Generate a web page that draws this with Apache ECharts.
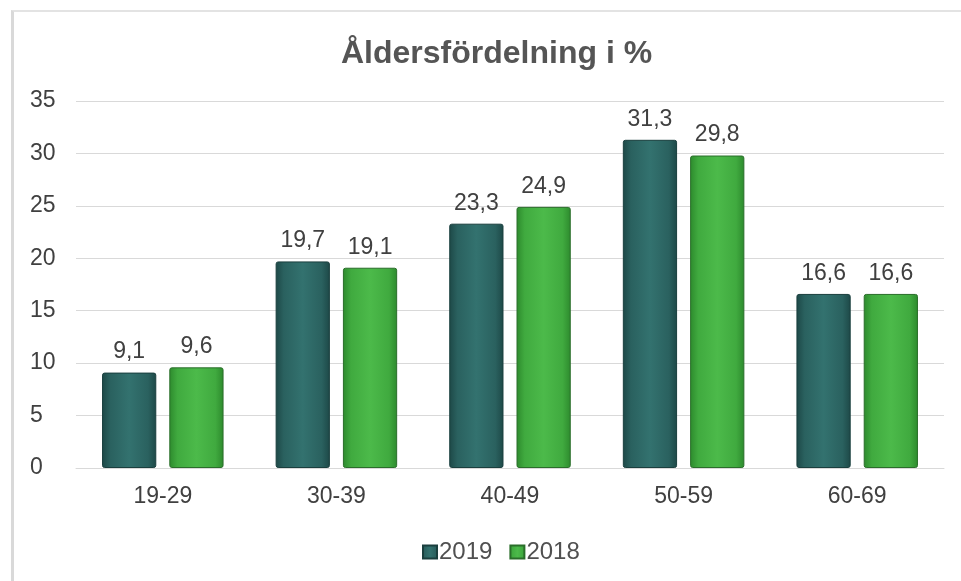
<!DOCTYPE html>
<html>
<head>
<meta charset="utf-8">
<script src="https://cdn.jsdelivr.net/npm/echarts@6/dist/echarts.min.js"></script>
<style>
  html, body { margin: 0; padding: 0; background: #fff; }
  #frame { position: absolute; left: 11px; top: 10px; width: 950px; height: 571px;
           border-left: 3px solid #d9d9d9; border-top: 2px solid #e3e3e3; box-sizing: border-box; }
  #main { width: 961px; height: 581px; position: absolute; left: 0; top: 0; }
</style>
</head>
<body>
<div id="frame"></div>
<div id="main"></div>
<script>
var categories = ['19-29', '30-39', '40-49', '50-59', '60-69'];
var values2019 = [9.1, 19.7, 23.3, 31.3, 16.6];
var values2018 = [9.6, 19.1, 24.9, 29.8, 16.6];
var yTicks = [0, 5, 10, 15, 20, 25, 30, 35];

var chart = echarts.init(document.getElementById('main'));

// Bars have a lighter middle and darker edges
function barFill(light, mid, dark) {
    return new echarts.graphic.LinearGradient(0, 0, 1, 0, [
        {offset: 0, color: dark},
        {offset: 0.15, color: mid},
        {offset: 0.5, color: light},
        {offset: 0.85, color: mid},
        {offset: 1, color: dark}
    ]);
}

var labelStyle = {
    show: true,
    position: 'top',
    distance: 9,
    fontFamily: 'Liberation Sans, Arial',
    fontSize: 23,
    color: '#404040',
    formatter: function (p) { return String(p.value).replace('.', ','); }
};

var option = {
    backgroundColor: 'transparent',
    title: {
        text: 'Åldersfördelning i %',
        left: 336,
        top: 33,
        textStyle: { fontFamily: 'Liberation Sans, Arial', fontSize: 32, fontWeight: 'bold', color: '#555555' }
    },
    legend: {
        bottom: 12,
        left: 417,
        itemWidth: 14,
        itemHeight: 13,
        itemGap: 17,
        icon: 'rect',
        textStyle: { fontFamily: 'Liberation Sans, Arial', fontSize: 24, color: '#505050', padding: [0, 0, 0, -3] },
        data: ['2019', '2018']
    },
    grid: { left: 76, right: 17, top: 101, bottom: 113 },
    xAxis: {
        type: 'category',
        data: categories,
        axisLine: { lineStyle: { color: '#d9d9d9', width: 1 } },
        axisTick: { show: false },
        axisLabel: { fontFamily: 'Liberation Sans, Arial', fontSize: 23, color: '#404040', margin: 17 }
    },
    yAxis: {
        type: 'value',
        min: yTicks[0],
        max: yTicks[yTicks.length - 1],
        interval: 5,
        axisLine: { show: false },
        axisTick: { show: false },
        splitLine: { lineStyle: { color: '#d9d9d9', width: 1 } },
        axisLabel: { fontFamily: 'Liberation Sans, Arial', fontSize: 23, color: '#404040', margin: 46, align: 'left' }
    },
    series: [
        {
            name: '2019',
            type: 'bar',
            data: values2019,
            barGap: '24%',
            barCategoryGap: '30%',
            itemStyle: {
                color: barFill('#33726f', '#2a615f', '#1d4847'),
                borderColor: '#1a3f3e',
                borderWidth: 1,
                borderRadius: 2
            },
            label: labelStyle
        },
        {
            name: '2018',
            type: 'bar',
            data: values2018,
            itemStyle: {
                color: barFill('#4cba4a', '#40aa3f', '#2d8a2d'),
                borderColor: '#2a6e2a',
                borderWidth: 1,
                borderRadius: 2
            },
            label: labelStyle
        }
    ]
};

chart.setOption(option);
</script>
</body>
</html>
